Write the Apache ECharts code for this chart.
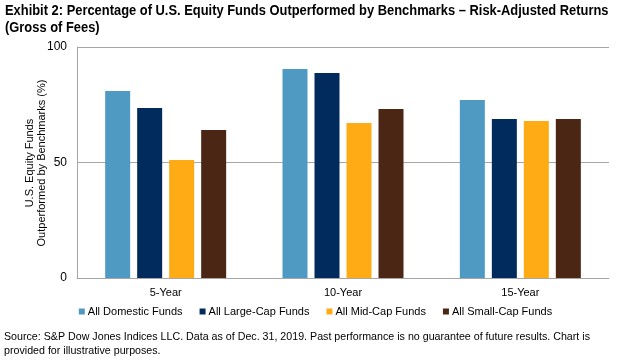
<!DOCTYPE html>
<html><head><meta charset="utf-8">
<script src="https://cdn.jsdelivr.net/npm/echarts@6/dist/echarts.min.js"></script>
<style>html,body{margin:0;padding:0;background:#fff}#c{width:631px;height:360px}</style>
</head><body><div id="c"></div>
<script>
var categories = ['5-Year', '10-Year', '15-Year'];
var seriesNames = ['All Domestic Funds', 'All Large-Cap Funds', 'All Mid-Cap Funds', 'All Small-Cap Funds'];
var domestic = [81.0, 90.5, 77.1];
var largeCap = [73.6, 88.7, 68.8];
var midCap = [51.1, 67.1, 68.0];
var smallCap = [64.1, 73.2, 68.8];
var yTicks = [0, 50, 100];
var colors = ['#4E9AC3', '#002B5C', '#FFAB16', '#4B2615'];

var chart = echarts.init(document.getElementById('c'), null, {renderer: 'canvas'});
var values = [domestic, largeCap, midCap, smallCap];
chart.setOption({
  animation: false,
  grid: {left: 77, right: 22, top: 47, bottom: 82},
  legend: {
    data: seriesNames, bottom: 38, left: 'center',
    itemWidth: 6, itemHeight: 6, itemGap: 17, icon: 'rect',
    textStyle: {fontFamily: '"Liberation Sans", Arial, sans-serif', fontSize: 11, color: '#000', padding: [0, 0, 0, -2]}
  },
  xAxis: {
    type: 'category', data: categories,
    axisLine: {lineStyle: {color: '#A6A6A6'}},
    axisTick: {show: false},
    axisLabel: {fontFamily: '"Liberation Sans", Arial, sans-serif', fontSize: 11, color: '#000', margin: 9}
  },
  yAxis: {
    type: 'value', min: 0, max: 100, interval: 50,
    axisLine: {show: true, lineStyle: {color: '#A6A6A6'}},
    axisTick: {show: false},
    splitLine: {lineStyle: {color: '#A6A6A6'}},
    axisLabel: {fontFamily: '"Liberation Sans", Arial, sans-serif', fontSize: 12, color: '#000', margin: 10,
      formatter: function (v) { return yTicks.indexOf(v) >= 0 ? String(v) : ''; }}
  },
  series: seriesNames.map(function (n, i) {
    return {name: n, type: 'bar', data: values[i], barWidth: 25, barGap: '28%',
      itemStyle: {color: colors[i]}};
  }),
  graphic: [{
    type: 'text', x: 5, y: 2, scaleX: 0.86,
    style: {text: 'Exhibit 2: Percentage of U.S. Equity Funds Outperformed by Benchmarks \u2013 Risk-Adjusted Returns\n(Gross of Fees)',
      font: 'bold 15px "Liberation Sans", Arial, sans-serif', fill: '#000', lineHeight: 17}
  }, {
    type: 'text', x: 36, y: 163, rotation: Math.PI / 2,
    style: {text: 'U.S. Equity Funds\nOutperformed by Benchmarks (%)', align: 'center', verticalAlign: 'middle',
      font: '11px "Liberation Sans", Arial, sans-serif', fill: '#000', lineHeight: 12}
  }, {
    type: 'text', x: 4, y: 330, scaleX: 0.97,
    style: {text: 'Source: S&P Dow Jones Indices LLC. Data as of Dec. 31, 2019. Past performance is no guarantee of future results. Chart is\nprovided for illustrative purposes.',
      font: '11px "Liberation Sans", Arial, sans-serif', fill: '#000', lineHeight: 14}
  }]
});
</script></body></html>
